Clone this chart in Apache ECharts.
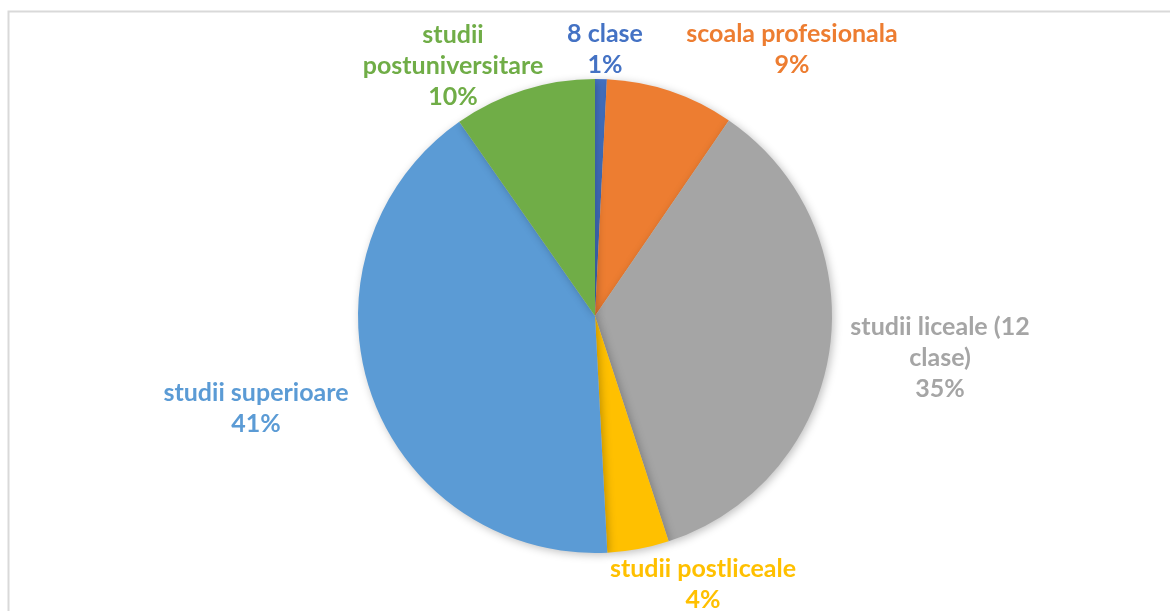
<!DOCTYPE html>
<html>
<head>
<meta charset="utf-8">
<script src="https://cdn.jsdelivr.net/npm/echarts@6/dist/echarts.min.js"></script>
<style>
  html, body { margin: 0; padding: 0; background: #fff; }
  #chart { width: 1170px; height: 611px; }
</style>
</head>
<body>
<div id="chart"></div>
<script>
// categories (as Excel wraps them) and values
var categories = ['8 clase', 'scoala profesionala', 'studii liceale (12\nclase)', 'studii postliceale', 'studii superioare', 'studii\npostuniversitare'];
var values = [0.8, 8.75, 35.4, 4.2, 41.1, 9.7];
var colors = ['#4472C4', '#ED7D31', '#A5A5A5', '#FFC000', '#5B9BD5', '#70AD47'];

// where each data label sits (centre of the text block)
var labelAnchors = [[605, 49], [792, 49], [940, 358], [703, 584], [256, 408], [453, 66]];

var pieData = categories.map(function (name, i) {
  return { name: name, value: values[i], itemStyle: { color: colors[i] }, label: { color: colors[i] } };
});

var chart = echarts.init(document.getElementById('chart'));
chart.setOption({
  animation: false,
  graphic: [{
    type: 'rect',
    shape: { x: 8.5, y: 11.5, width: 1300, height: 800 },
    style: { fill: 'none', stroke: '#d9d9d9', lineWidth: 2 },
    z: -1
  }],
  series: [{
    type: 'pie',
    center: [595, 316],
    radius: 237,
    startAngle: 90,
    clockwise: true,
    data: pieData,
    itemStyle: {
      borderWidth: 0,
      shadowBlur: 8,
      shadowColor: 'rgba(0,0,0,0.25)',
      shadowOffsetX: 2,
      shadowOffsetY: 2
    },
    label: {
      show: true,
      position: 'outside',
      fontFamily: 'Lato',
      fontWeight: 'bold',
      fontSize: 25,
      lineHeight: 31,
      align: 'center',
      formatter: function (p) {
        return p.name + '\n' + Math.round(p.percent) + '%';
      }
    },
    labelLine: { show: false },
    labelLayout: function (p) {
      var a = labelAnchors[p.dataIndex];
      return { x: a[0], y: a[1], align: 'center', verticalAlign: 'middle' };
    }
  }]
});
</script>
</body>
</html>
